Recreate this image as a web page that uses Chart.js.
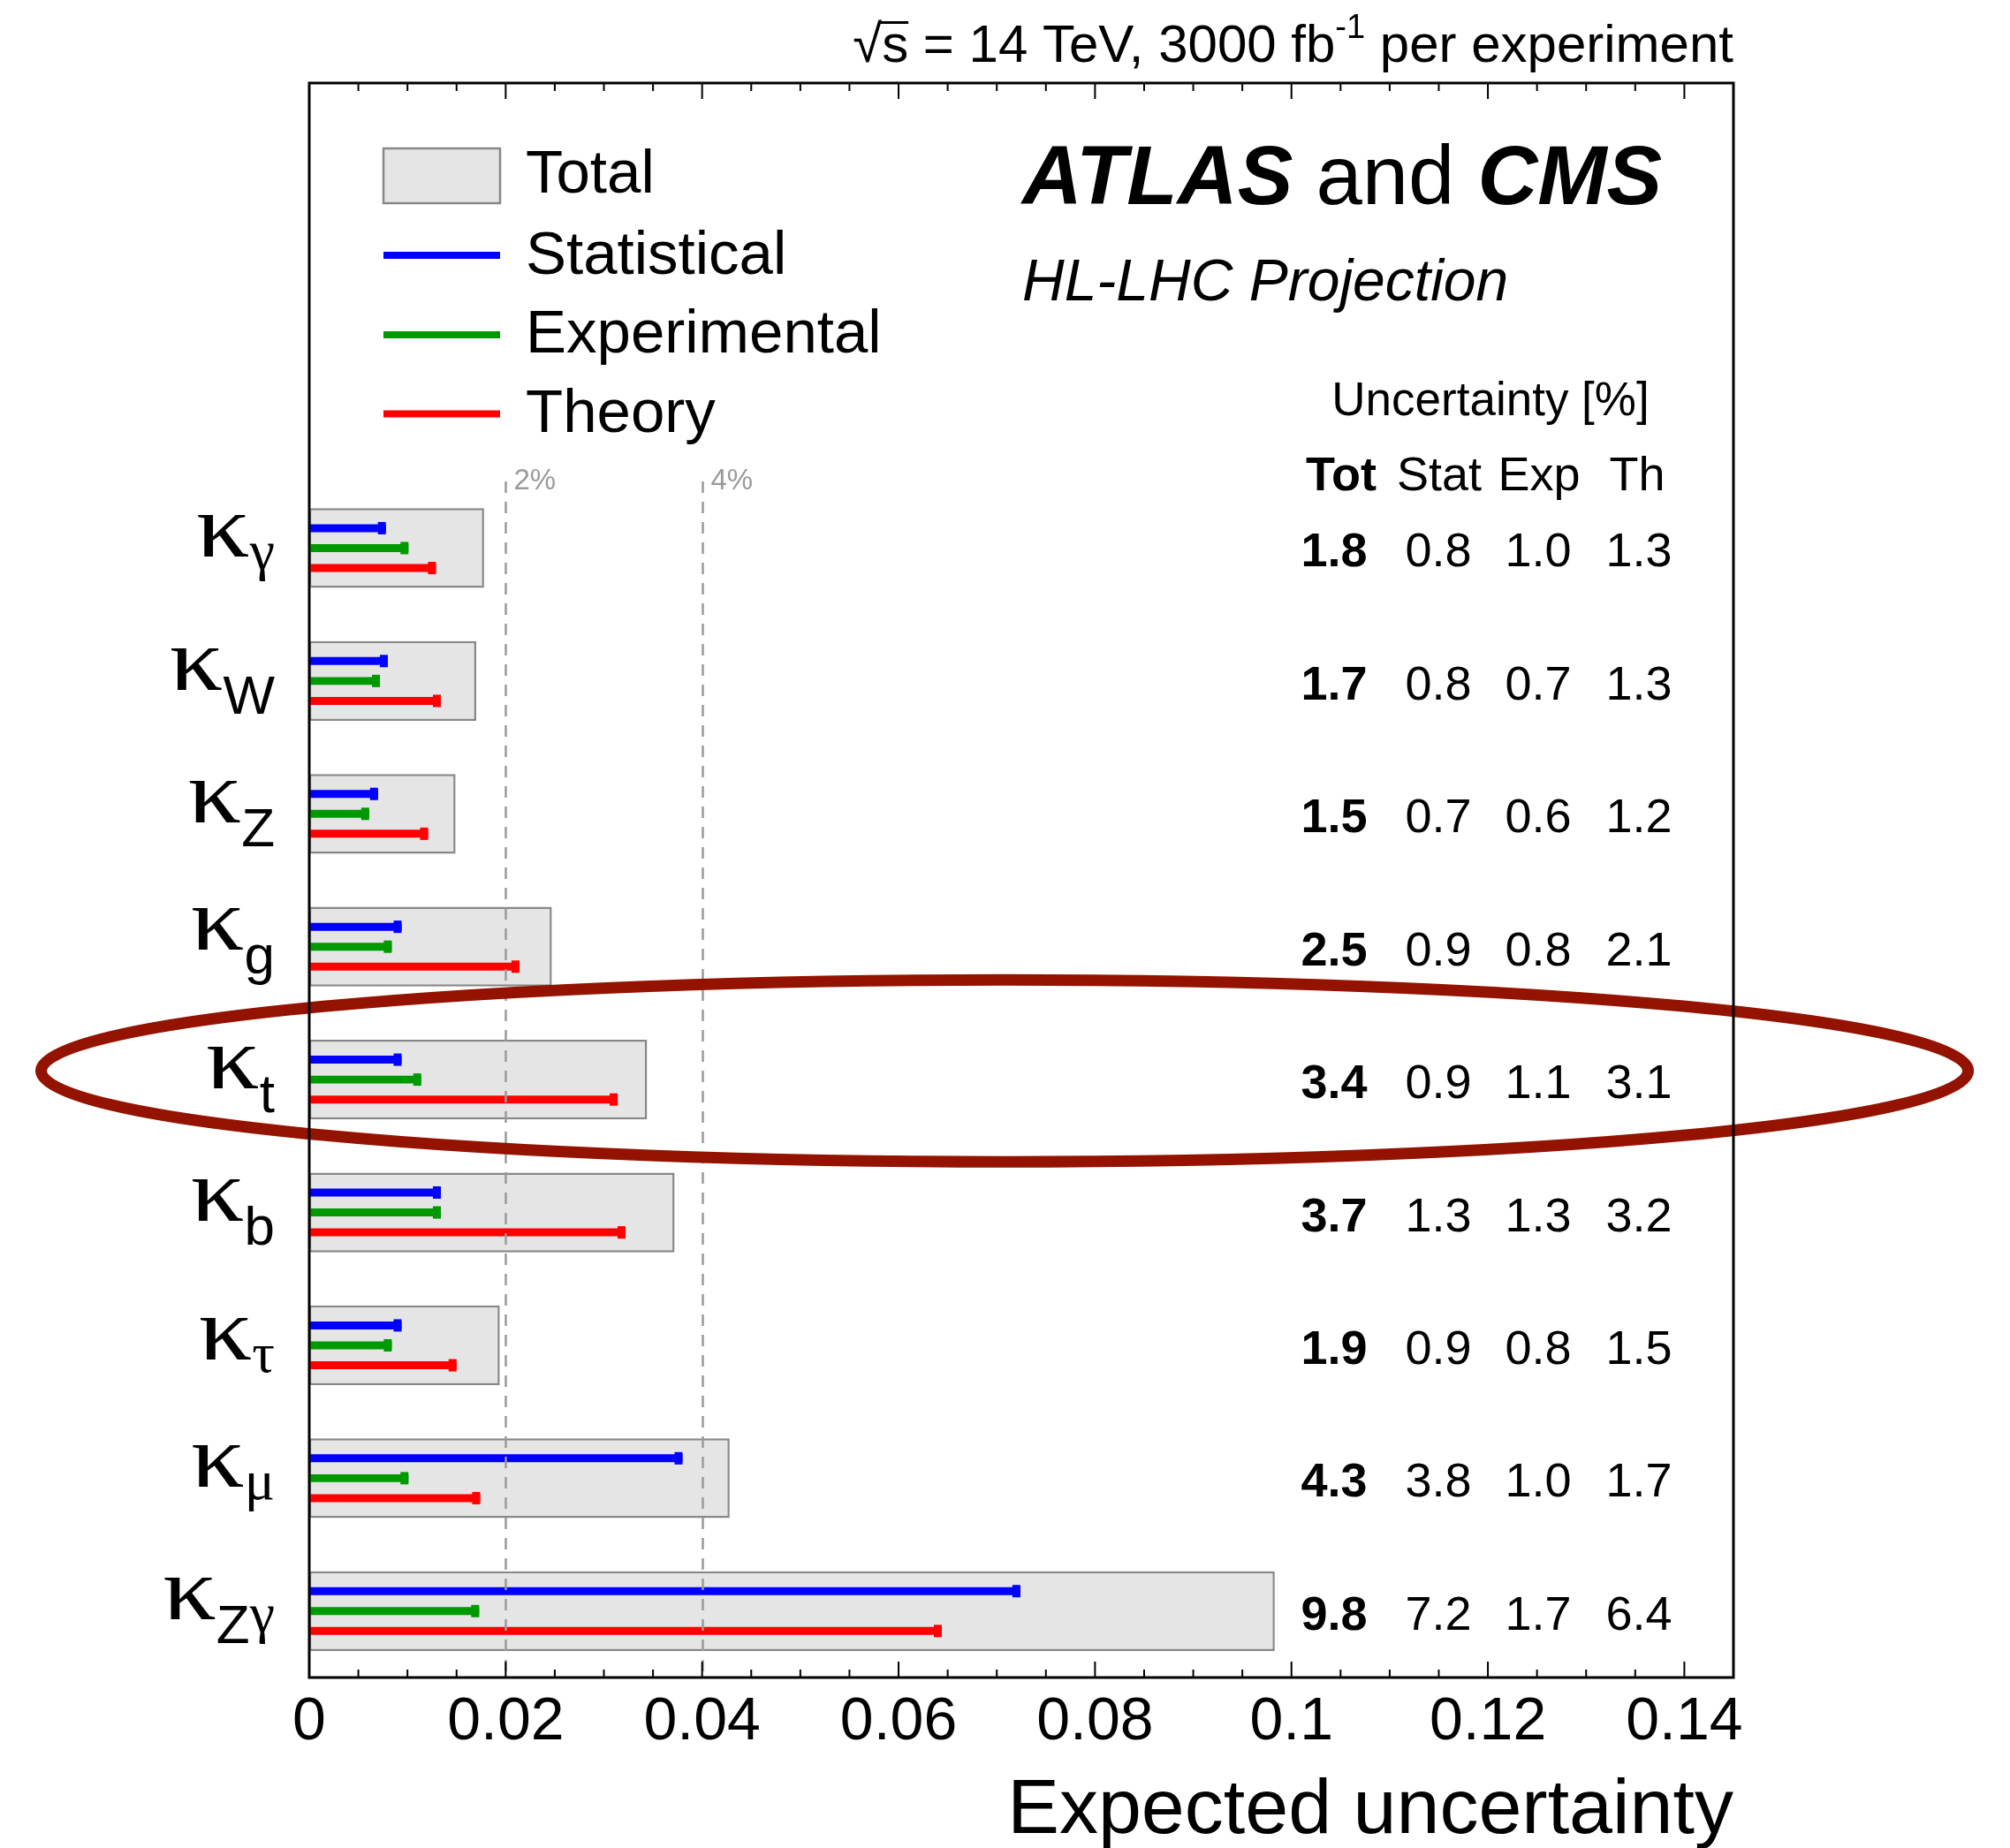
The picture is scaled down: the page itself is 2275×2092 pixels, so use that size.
<!DOCTYPE html>
<html>
<head>
<meta charset="utf-8">
<script src="https://cdn.jsdelivr.net/npm/chart.js@4.4.1/dist/chart.umd.min.js"></script>
<style>
  html, body { margin: 0; padding: 0; background: #ffffff; }
  canvas { display: block; }
</style>
</head>
<body>
<canvas id="c" width="2275" height="2092"></canvas>
<script>
// ---------------- data (uncertainties in %) ----------------
const categories = ['κγ', 'κW', 'κZ', 'κg', 'κt', 'κb', 'κτ', 'κμ', 'κZγ'];
const totalUnc = [1.78, 1.70, 1.49, 2.47, 3.44, 3.72, 1.94, 4.28, 9.83];
const statUnc  = [0.78, 0.80, 0.70, 0.94, 0.94, 1.34, 0.94, 3.80, 7.24];
const expUnc   = [1.01, 0.72, 0.61, 0.84, 1.14, 1.34, 0.84, 1.01, 1.73];
const thUnc    = [1.29, 1.34, 1.21, 2.14, 3.14, 3.22, 1.50, 1.74, 6.44];
const seriesNames = ['Total', 'Statistical', 'Experimental', 'Theory'];
const tableHeader = ['Tot', 'Stat', 'Exp', 'Th'];
const referenceLines = [0.02, 0.04];
const referenceLabels = ['2%', '4%'];
const xTickStep = 0.02;
const xMinorStep = 0.005;
const highlighted = 'κt';

// ---------------- style ----------------
const SANS = '"Liberation Sans", Arial, Helvetica, sans-serif';
const SERIF = '"Liberation Serif", "Times New Roman", Times, serif';
const COLORS = { total: '#e5e5e5', totalBorder: '#878787', stat: '#0000ff', exp: '#009900', th: '#ff0000' };
const EMPTY_ROWS = 3; // space reserved for the legend at the top
const ellipseStyle = { xCenter: 0.0708, xRadius: 0.0981, yShift: -0.066, yRadius: 0.685, color: '#941300', width: 13 };
const LINE_W = 9, CAP_W = 9, CAP_H = 14;

const pad = arr => Array(EMPTY_ROWS).fill(null).concat(arr.map(v => v / 100));
const rowLabels = Array(EMPTY_ROWS).fill('').concat(categories);

function fmtTick(v) { return String(Number(v.toFixed(3))); }

const decor = {
  id: 'decor',
  afterDatasetsDraw(chart) {
    const ctx = chart.ctx;
    const xs = chart.scales.x, ys = chart.scales.y;
    const ca = chart.chartArea;
    const slot = (ca.bottom - ca.top) / rowLabels.length;
    ctx.save();

    // caps at the end of the component lines
    [0, 1, 2].forEach(di => {
      const meta = chart.getDatasetMeta(di);
      const col = chart.data.datasets[di].backgroundColor;
      meta.data.forEach((el, i) => {
        if (chart.data.datasets[di].data[i] == null) return;
        ctx.fillStyle = col;
        ctx.fillRect(el.x - CAP_W, el.y - CAP_H / 2, CAP_W, CAP_H);
      });
    });

    // dashed reference lines
    referenceLines.forEach((v, k) => {
      const px = Math.round(xs.getPixelForValue(v)) + 0.5;
      ctx.strokeStyle = '#9a9a9a';
      ctx.lineWidth = 2.5;
      ctx.setLineDash([13, 10]);
      ctx.beginPath();
      ctx.moveTo(px, 545);
      ctx.lineTo(px, ca.bottom);
      ctx.stroke();
      ctx.setLineDash([]);
      ctx.fillStyle = '#9a9a9a';
      ctx.font = `33px ${SANS}`;
      ctx.textAlign = 'left';
      ctx.textBaseline = 'alphabetic';
      ctx.fillText(referenceLabels[k], px + 9, 554);
    });
    ctx.setLineDash([]);

    // highlight ellipse
    const hi = rowLabels.indexOf(highlighted);
    const cx = xs.getPixelForValue(ellipseStyle.xCenter);
    const rx = xs.getPixelForValue(ellipseStyle.xCenter + ellipseStyle.xRadius) - cx;
    const cy = ys.getPixelForValue(hi) + ellipseStyle.yShift * slot;
    const ry = ellipseStyle.yRadius * slot;
    ctx.strokeStyle = ellipseStyle.color;
    ctx.lineWidth = ellipseStyle.width;
    ctx.beginPath();
    ctx.ellipse(cx, cy, rx, ry, 0, 0, Math.PI * 2);
    ctx.stroke();

    // frame
    ctx.strokeStyle = '#000';
    ctx.lineWidth = 3;
    ctx.strokeRect(ca.left, ca.top, ca.right - ca.left, ca.bottom - ca.top);

    // ticks (bottom pointing up, top pointing down)
    ctx.lineWidth = 2;
    const nMinor = Math.floor(xs.max / xMinorStep + 1e-6);
    for (let k = 0; k <= nMinor; k++) {
      const v = k * xMinorStep;
      const major = Math.abs(v / xTickStep - Math.round(v / xTickStep)) < 1e-6;
      const len = major ? 18 : 9;
      const px = xs.getPixelForValue(v);
      ctx.beginPath();
      ctx.moveTo(px, ca.bottom);
      ctx.lineTo(px, ca.bottom - len);
      ctx.moveTo(px, ca.top);
      ctx.lineTo(px, ca.top + len);
      ctx.stroke();
    }
    ctx.restore();
  },
  afterDraw(chart) {
    const ctx = chart.ctx;
    const ys = chart.scales.y;
    const ca = chart.chartArea;
    ctx.save();
    ctx.fillStyle = '#000';
    ctx.textBaseline = 'alphabetic';

    // y labels: kappa with subscripts
    categories.forEach((cat, i) => {
      const cyRow = ys.getPixelForValue(i + EMPTY_ROWS);
      drawKappa(ctx, cat.slice(1), ca.left - 39, cyRow);
    });

    // table
    const valCenters = [1510, 1628, 1741, 1855];
    const headCenters = [1518, 1629, 1742, 1853];
    ctx.textAlign = 'center';
    ctx.font = `53px ${SANS}`;
    ctx.fillText('Uncertainty [%]', 1687, 470);
    tableHeader.forEach((h, k) => {
      ctx.font = (k === 0 ? 'bold ' : '') + `54px ${SANS}`;
      ctx.fillText(h, headCenters[k], 555);
    });
    categories.forEach((cat, i) => {
      const cyRow = ys.getPixelForValue(i + EMPTY_ROWS);
      const vals = [totalUnc[i], statUnc[i], expUnc[i], thUnc[i]];
      vals.forEach((v, k) => {
        ctx.font = (k === 0 ? 'bold ' : '') + `54px ${SANS}`;
        ctx.fillText(v.toFixed(1), valCenters[k], cyRow + 21);
      });
    });

    // legend
    ctx.fillStyle = COLORS.total;
    ctx.fillRect(434, 168, 132, 62);
    ctx.strokeStyle = '#888';
    ctx.lineWidth = 2.5;
    ctx.strokeRect(434, 168, 132, 62);
    const legLineY = [289, 379, 468.5];
    [COLORS.stat, COLORS.exp, COLORS.th].forEach((c, k) => {
      ctx.fillStyle = c;
      ctx.fillRect(434, legLineY[k] - 4, 132, 8);
    });
    ctx.fillStyle = '#000';
    ctx.textAlign = 'left';
    ctx.font = `69px ${SANS}`;
    const legBase = [218, 310, 399, 489];
    seriesNames.forEach((n, k) => ctx.fillText(n, 595, legBase[k]));

    // ATLAS and CMS
    let x = 1157;
    ctx.font = `italic bold 94px ${SANS}`;
    ctx.fillText('ATLAS', x, 231); x += ctx.measureText('ATLAS').width;
    ctx.font = `94px ${SANS}`;
    ctx.fillText(' and ', x, 231); x += ctx.measureText(' and ').width;
    ctx.font = `italic bold 94px ${SANS}`;
    ctx.fillText('CMS', x, 231);
    ctx.font = `italic 66px ${SANS}`;
    ctx.fillText('HL-LHC Projection', 1157, 340);

    // top-right energy label
    const F = `60px ${SANS}`, FS = `38px ${SANS}`;
    const pieces = [
      { t: '√', f: F, dy: 0 },
      { t: 's', f: F, dy: 0, bar: true },
      { t: ' = 14 TeV, 3000 fb', f: F, dy: 0 },
      { t: '-1', f: FS, dy: -27 },
      { t: ' per experiment', f: F, dy: 0 }
    ];
    let tw = 0;
    pieces.forEach(p => { ctx.font = p.f; p.w = ctx.measureText(p.t).width; tw += p.w; });
    x = ca.right - tw;
    const base = 70;
    pieces.forEach(p => {
      ctx.font = p.f;
      ctx.fillText(p.t, x, base + p.dy);
      if (p.bar) {
        ctx.fillRect(x - 2, base - 46, p.w + 2, 3);
      }
      x += p.w;
    });

    // x axis title
    ctx.textAlign = 'right';
    ctx.font = `88px ${SANS}`;
    ctx.fillText('Expected uncertainty', ca.right, 2075);
    ctx.restore();
  }
};

function drawKappa(ctx, sub, rightX, cy) {
  const kFont = `102px ${SERIF}`;
  const kStretch = 1.18;
  const greekFont = `64px ${SERIF}`;
  const latinFont = `62px ${SANS}`;
  ctx.font = kFont;
  const km = ctx.measureText('κ');
  const kW = km.width * kStretch;
  const runs = [...sub].map(ch => {
    const greek = /[\u0370-\u03ff]/.test(ch);
    ctx.font = greek ? greekFont : latinFont;
    return { ch, greek, m: ctx.measureText(ch), dy: greek ? 14 : 27, f: greek ? greekFont : latinFont };
  });
  let w = kW;
  runs.forEach(r => { w += r.m.width; });
  let top = -km.actualBoundingBoxAscent, bot = km.actualBoundingBoxDescent;
  runs.forEach(r => {
    top = Math.min(top, r.dy - r.m.actualBoundingBoxAscent);
    bot = Math.max(bot, r.dy + r.m.actualBoundingBoxDescent);
  });
  const base = cy - (top + bot) / 2;
  let x = rightX - w;
  ctx.textAlign = 'left';
  ctx.font = kFont;
  ctx.save();
  ctx.translate(x, base);
  ctx.scale(kStretch, 1);
  ctx.fillText('κ', 0, 0);
  ctx.restore();
  x += kW;
  runs.forEach(r => {
    ctx.font = r.f;
    ctx.fillText(r.ch, x, base + r.dy);
    x += r.m.width;
  });
}

const barCommon = { categoryPercentage: 0.45, barPercentage: LINE_W / (0.45 * 150.42 / 3), borderWidth: 0 };

new Chart(document.getElementById('c'), {
  type: 'bar',
  data: {
    labels: rowLabels,
    datasets: [
      Object.assign({ label: seriesNames[1], data: pad(statUnc), backgroundColor: COLORS.stat }, barCommon),
      Object.assign({ label: seriesNames[2], data: pad(expUnc), backgroundColor: COLORS.exp }, barCommon),
      Object.assign({ label: seriesNames[3], data: pad(thUnc), backgroundColor: COLORS.th }, barCommon),
      {
        label: seriesNames[0], data: pad(totalUnc), backgroundColor: COLORS.total,
        borderColor: COLORS.totalBorder, borderWidth: 2.5, borderSkipped: false,
        grouped: false, categoryPercentage: 1, barPercentage: 0.6
      }
    ]
  },
  options: {
    indexAxis: 'y',
    responsive: false,
    animation: false,
    devicePixelRatio: 1,
    layout: { padding: { top: 94, right: 313, bottom: 0, left: 0 } },
    plugins: { legend: { display: false }, tooltip: { enabled: false }, title: { display: false } },
    scales: {
      x: {
        type: 'linear', min: 0, max: 0.145, position: 'bottom',
        grid: { display: false, drawTicks: false },
        border: { display: false },
        ticks: {
          stepSize: xTickStep, includeBounds: false, autoSkip: false, maxRotation: 0,
          padding: 10, color: '#000', font: { family: SANS, size: 68 },
          callback: v => fmtTick(v)
        },
        afterFit: s => { s.height = 193; }
      },
      y: {
        type: 'category',
        grid: { display: false, drawTicks: false },
        border: { display: false },
        ticks: { display: false },
        afterFit: s => { s.width = 350; }
      }
    }
  },
  plugins: [decor]
});
</script>
</body>
</html>
